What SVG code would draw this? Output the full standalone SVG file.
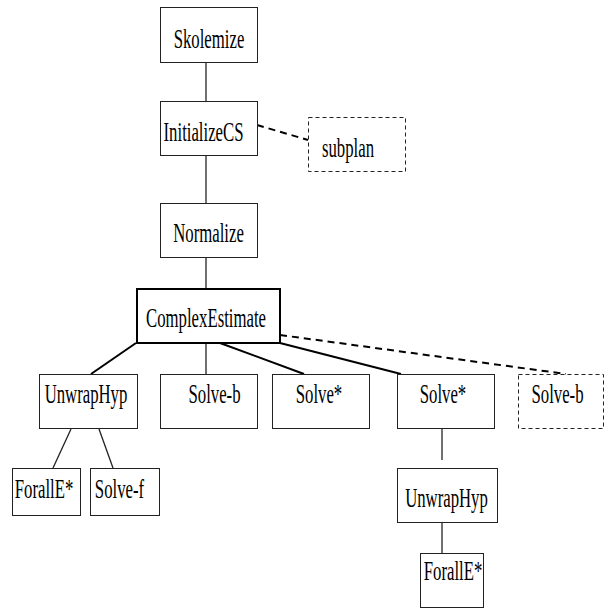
<svg xmlns="http://www.w3.org/2000/svg" width="605" height="609" viewBox="0 0 605 609">
<style>
.box{fill:#fff;stroke:#222;stroke-width:1}
.bold{fill:#fff;stroke:#000;stroke-width:2}
.dbox{fill:#fff;stroke:#222;stroke-width:1;stroke-dasharray:4,3}
.t{font-family:"Liberation Serif","Times New Roman",serif;font-size:27px;fill:#000;text-anchor:middle}
.v{stroke:#222;stroke-width:1.3;fill:none}
.s{stroke:#000;stroke-width:2;fill:none}
.d{stroke:#000;stroke-width:2;stroke-dasharray:7,5;fill:none}
</style>
<rect width="605" height="609" fill="#fff"/>
<g id="connectors">
<line class="v" x1="206" y1="62" x2="206" y2="101"/>
<line class="v" x1="206" y1="155" x2="206" y2="203"/>
<line class="v" x1="206" y1="257" x2="206" y2="288"/>
<line class="d" x1="257" y1="125" x2="308" y2="140"/>
<line class="s" x1="136" y1="343" x2="91" y2="374"/>
<line class="v" x1="206" y1="343" x2="206" y2="374"/>
<line class="s" x1="220" y1="343" x2="304" y2="374"/>
<line class="s" x1="280" y1="343" x2="401" y2="374"/>
<line class="d" x1="280" y1="335" x2="566" y2="374"/>
<line class="v" x1="71" y1="429" x2="53" y2="468"/>
<line class="v" x1="99" y1="429" x2="113" y2="468"/>
<line class="v" x1="442" y1="429" x2="442" y2="460"/>
<line class="v" x1="442" y1="522" x2="442" y2="553"/>
</g>
<g id="skolemize"><rect class="box" x="160.5" y="7.5" width="97" height="55"/><text class="t" transform="translate(209,48) scale(0.62,1)">Skolemize</text></g>
<g id="initializecs"><rect class="box" x="160.5" y="101.5" width="97" height="54"/><text class="t" transform="translate(203.5,141) scale(0.62,1)">InitializeCS</text></g>
<g id="subplan"><rect class="dbox" x="308.5" y="117.5" width="97" height="54"/><text class="t" transform="translate(348,157) scale(0.62,1)">subplan</text></g>
<g id="normalize"><rect class="box" x="160.5" y="203.5" width="97" height="54"/><text class="t" transform="translate(208.5,242) scale(0.62,1)">Normalize</text></g>
<g id="complexestimate"><rect class="bold" x="137" y="289" width="143" height="54"/><text class="t" transform="translate(206,327) scale(0.62,1)">ComplexEstimate</text></g>
<g id="unwraphyp1"><rect class="box" x="39.5" y="374.5" width="98" height="54"/><text class="t" transform="translate(86,403) scale(0.62,1)">UnwrapHyp</text></g>
<g id="solveb1"><rect class="box" x="160.5" y="374.5" width="97" height="54"/><text class="t" transform="translate(214.5,403) scale(0.62,1)">Solve-b</text></g>
<g id="solvestar1"><rect class="box" x="272.5" y="374.5" width="97" height="54"/><text class="t" transform="translate(319,403) scale(0.62,1)">Solve*</text></g>
<g id="solvestar2"><rect class="box" x="397.5" y="374.5" width="97" height="54"/><text class="t" transform="translate(443,403) scale(0.62,1)">Solve*</text></g>
<g id="solveb2"><rect class="dbox" x="518.5" y="374.5" width="85" height="54"/><text class="t" transform="translate(557.5,403) scale(0.62,1)">Solve-b</text></g>
<g id="foralle1"><rect class="box" x="12.5" y="468.5" width="68" height="47"/><text class="t" transform="translate(44,498) scale(0.62,1)">ForallE*</text></g>
<g id="solvef"><rect class="box" x="90.5" y="468.5" width="69" height="47"/><text class="t" transform="translate(119.5,498) scale(0.62,1)">Solve-f</text></g>
<g id="unwraphyp2"><rect class="box" x="397.5" y="468.5" width="100" height="54"/><text class="t" transform="translate(446.5,507) scale(0.62,1)">UnwrapHyp</text></g>
<g id="foralle2"><rect class="box" x="420.5" y="553.5" width="63" height="54"/><text class="t" transform="translate(453,580) scale(0.62,1)">ForallE*</text></g>
</svg>
